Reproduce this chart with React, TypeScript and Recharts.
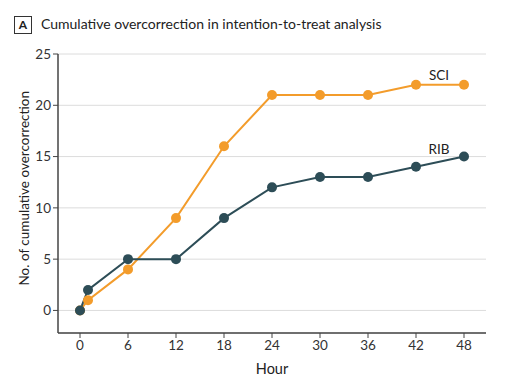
import React from 'react';
import { LineChart, Line, XAxis, YAxis, CartesianGrid, LabelList } from 'recharts';

const hours = [0, 1, 6, 12, 18, 24, 30, 36, 42, 48];
const sciValues = [0, 1, 4, 9, 16, 21, 21, 21, 22, 22];
const ribValues = [0, 2, 5, 5, 9, 12, 13, 13, 14, 15];
const xTicks = [0, 6, 12, 18, 24, 30, 36, 42, 48];
const yTicks = [0, 5, 10, 15, 20, 25];

const data = hours.map((h, i) => ({ hour: h, sci: sciValues[i], rib: ribValues[i] }));

const ORANGE = '#F39C2B';
const DARK = '#2D4D57';
const FONT = 'Lato, "Open Sans", sans-serif';

const makeLabel = (text: string, dx: number, dy: number) => (props: any) => {
  const { x, y, index } = props;
  if (index !== 8) return null;
  return (
    <text x={x + dx} y={y + dy} textAnchor="middle" fontSize={13.5} fill="#222" fontFamily={FONT}>
      {text}
    </text>
  );
};

export default function App() {
  return (
    <div style={{ position: 'relative', width: 505, height: 388, background: '#fff', margin: -8, fontFamily: FONT }}>
      <div style={{ position: 'absolute', left: 14, top: 16, width: 16, height: 16, border: '1px solid #333', fontSize: 12, fontWeight: 700, lineHeight: '16px', textAlign: 'center', color: '#222' }}>A</div>
      <div style={{ position: 'absolute', left: 41, top: 15, fontSize: 14, lineHeight: '18px', color: '#222', whiteSpace: 'nowrap' }}>
        Cumulative overcorrection in intention-to-treat analysis
      </div>
      <LineChart width={505} height={388} data={data} margin={{ top: 54, right: 19, bottom: 0, left: 0 }}>
        <CartesianGrid horizontal vertical={false} stroke="#dcdcdc" strokeWidth={1} />
        <XAxis
          dataKey="hour"
          type="number"
          domain={[-2.75, 50.75]}
          ticks={xTicks}
          height={55}
          tick={{ fontSize: 13.5, fill: '#333', fontFamily: FONT }}
          tickLine={{ stroke: '#444' }}
          axisLine={{ stroke: '#444', strokeWidth: 1.5 }}
          tickSize={5}
          label={{ value: 'Hour', position: 'insideTop', offset: 31, fontSize: 14.5, fill: '#222', fontFamily: FONT }}
        />
        <YAxis
          type="number"
          domain={[-2.2, 25]}
          ticks={yTicks}
          width={58}
          tick={{ fontSize: 13.5, fill: '#333', fontFamily: FONT }}
          tickLine={{ stroke: '#444' }}
          axisLine={{ stroke: '#444', strokeWidth: 1.5 }}
          tickSize={5}
          label={{ value: 'No. of cumulative overcorrection', angle: -90, position: 'insideLeft', offset: 24, dy: 92, fontSize: 13.5, fill: '#222', fontFamily: FONT }}
        />
        <Line
          dataKey="sci"
          stroke={ORANGE}
          strokeWidth={2}
          dot={{ r: 5, fill: ORANGE, stroke: ORANGE, strokeWidth: 0 }}
          isAnimationActive={false}
        >
          <LabelList dataKey="sci" content={makeLabel('SCI', 23, -5)} />
        </Line>
        <Line
          dataKey="rib"
          stroke={DARK}
          strokeWidth={2}
          dot={{ r: 5, fill: DARK, stroke: DARK, strokeWidth: 0 }}
          isAnimationActive={false}
        >
          <LabelList dataKey="rib" content={makeLabel('RIB', 23, -13)} />
        </Line>
      </LineChart>
    </div>
  );
}
